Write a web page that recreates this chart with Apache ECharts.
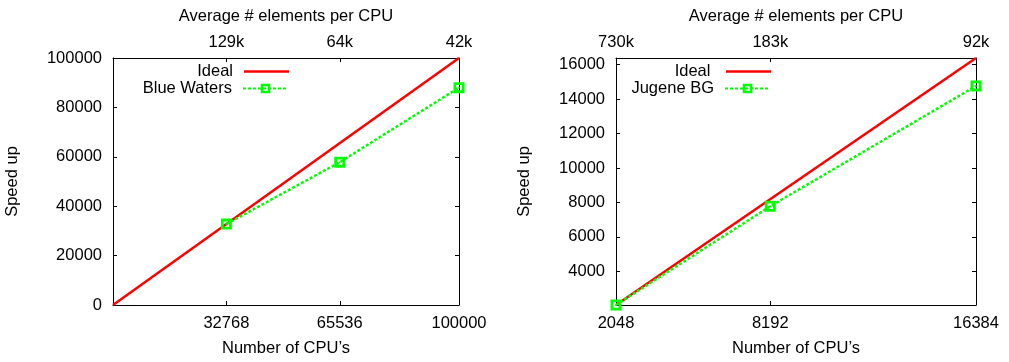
<!DOCTYPE html>
<html>
<head>
<meta charset="utf-8">
<script src="https://cdn.jsdelivr.net/npm/echarts@6/dist/echarts.min.js"></script>
<style>html,body{margin:0;padding:0;background:#fff;}#c{width:1009px;height:362px;}</style>
</head>
<body>
<div id="c"></div>
<script>
// Left panel: Blue Waters
const leftCpuTicks = [32768, 65536, 100000];
const leftTopLabels = ['129k', '64k', '42k'];
const leftYTicks = [0, 20000, 40000, 60000, 80000, 100000];
const leftIdealX = [0, 100000];
const leftIdealY = [0, 100000];
const blueWatersX = [32768, 65536, 100000];
const blueWatersY = [32768, 57800, 88000];
// Right panel: Jugene BG
const rightCpuTicks = [2048, 8192, 16384];
const rightTopLabels = ['730k', '183k', '92k'];
const rightYTicks = [4000, 6000, 8000, 10000, 12000, 14000, 16000];
const rightIdealX = [2048, 16384];
const rightIdealY = [2048, 16384];
const jugeneX = [2048, 8192, 16384];
const jugeneY = [2048, 7780, 14760];

const FONT = 'Liberation Sans, Arial, sans-serif';
const FS = 16.5;
const GREEN = '#00ff00';
const RED = '#ff0000';
const markerPath = 'path://M0,0L10,0L10,10L0,10Z M2.6,2.6L2.6,7.4L7.4,7.4L7.4,2.6Z M4.3,4.3L5.7,4.3L5.7,5.7L4.3,5.7Z';

function zip(xs, ys) { return xs.map((x, i) => [x, ys[i]]); }
const plain = function (v) { return String(v); };

const lineAx = { show: true, onZero: false, lineStyle: { color: '#000', width: 1 } };
const tickIn = { show: true, inside: true, length: 4, lineStyle: { color: '#000', width: 1 } };
const lbl = { color: '#000', fontFamily: FONT, fontSize: FS };
const nameTs = { color: '#000', fontFamily: FONT, fontSize: FS };

function xAxes(gi, min, max, ticks, topLabels) {
  return [
    {
      type: 'value', gridIndex: gi, position: 'bottom', min: min, max: max,
      axisLine: lineAx, splitLine: { show: false },
      axisTick: Object.assign({}, tickIn, { customValues: ticks }),
      axisLabel: Object.assign({}, lbl, { customValues: ticks, margin: 10, formatter: plain, showMinLabel: true, showMaxLabel: true }),
      name: 'Number of CPU\u2019s', nameLocation: 'middle', nameGap: 35, nameTextStyle: nameTs
    },
    {
      type: 'value', gridIndex: gi, position: 'top', min: min, max: max,
      axisLine: lineAx, splitLine: { show: false },
      axisTick: Object.assign({}, tickIn, { customValues: ticks }),
      axisLabel: Object.assign({}, lbl, {
        customValues: ticks, margin: 7, showMinLabel: true, showMaxLabel: true,
        formatter: function (v) { const i = ticks.indexOf(v); return i >= 0 ? topLabels[i] : ''; }
      }),
      name: 'Average # elements per CPU', nameLocation: 'middle', nameGap: 33, nameTextStyle: nameTs
    }
  ];
}

function yAxes(gi, min, max, ticks, nameGap) {
  return [
    {
      type: 'value', gridIndex: gi, position: 'left', min: min, max: max,
      axisLine: lineAx, splitLine: { show: false },
      axisTick: Object.assign({}, tickIn, { customValues: ticks }),
      axisLabel: Object.assign({}, lbl, { customValues: ticks, margin: 11, formatter: plain, showMinLabel: true, showMaxLabel: true }),
      name: 'Speed up', nameLocation: 'middle', nameGap: nameGap, nameTextStyle: nameTs
    },
    {
      type: 'value', gridIndex: gi, position: 'right', min: min, max: max,
      axisLine: lineAx, splitLine: { show: false },
      axisTick: Object.assign({}, tickIn, { customValues: ticks }),
      axisLabel: { show: false }
    }
  ];
}

function legendItem(name, right, top, lineIcon, color) {
  const it = lineIcon ? { name: name, icon: 'rect', itemStyle: { color: color } } : { name: name };
  return {
    data: [it], orient: 'vertical', right: right, top: top, align: 'right',
    itemWidth: 45, itemHeight: lineIcon ? 2.5 : 12, itemGap: 0, padding: 0,
    textStyle: { color: '#000', fontFamily: FONT, fontSize: FS, padding: [0, 6, 0, 0] },
    selectedMode: false
  };
}

const option = {
  animation: false,
  backgroundColor: '#fff',
  grid: [
    { left: 113, right: 550, top: 58, bottom: 56 },
    { left: 616, right: 33, top: 58, bottom: 56 }
  ],
  xAxis: xAxes(0, 0, 100000, leftCpuTicks, leftTopLabels).concat(xAxes(1, 2048, 16384, rightCpuTicks, rightTopLabels)),
  yAxis: yAxes(0, 0, 100000, leftYTicks, 92).concat(yAxes(1, 2048, 16384, rightYTicks, 83)),
  legend: [
    legendItem('Ideal', 720, 63, true, RED),
    legendItem('Blue Waters', 720, 80, false),
    legendItem('Ideal ', 238, 63, true, RED),
    legendItem('Jugene BG', 238, 80, false)
  ],
  series: [
    {
      name: 'Ideal', type: 'line', xAxisIndex: 0, yAxisIndex: 0, data: zip(leftIdealX, leftIdealY),
      showSymbol: false, symbol: 'none', lineStyle: { color: RED, width: 2.5 }, itemStyle: { color: RED }, clip: false
    },
    {
      name: 'Blue Waters', type: 'line', xAxisIndex: 0, yAxisIndex: 0, data: zip(blueWatersX, blueWatersY),
      symbol: markerPath, symbolSize: 11, lineStyle: { color: GREEN, width: 2.5, type: [3, 2] },
      itemStyle: { color: GREEN }, clip: false, z: 3
    },
    {
      name: 'Ideal ', type: 'line', xAxisIndex: 2, yAxisIndex: 2, data: zip(rightIdealX, rightIdealY),
      showSymbol: false, symbol: 'none', lineStyle: { color: RED, width: 2.5 }, itemStyle: { color: RED }, clip: false
    },
    {
      name: 'Jugene BG', type: 'line', xAxisIndex: 2, yAxisIndex: 2, data: zip(jugeneX, jugeneY),
      symbol: markerPath, symbolSize: 11, lineStyle: { color: GREEN, width: 2.5, type: [3, 2] },
      itemStyle: { color: GREEN }, clip: false, z: 3
    }
  ]
};

const chart = echarts.init(document.getElementById('c'), null, { renderer: 'canvas' });
chart.setOption(option);
</script>
</body>
</html>
